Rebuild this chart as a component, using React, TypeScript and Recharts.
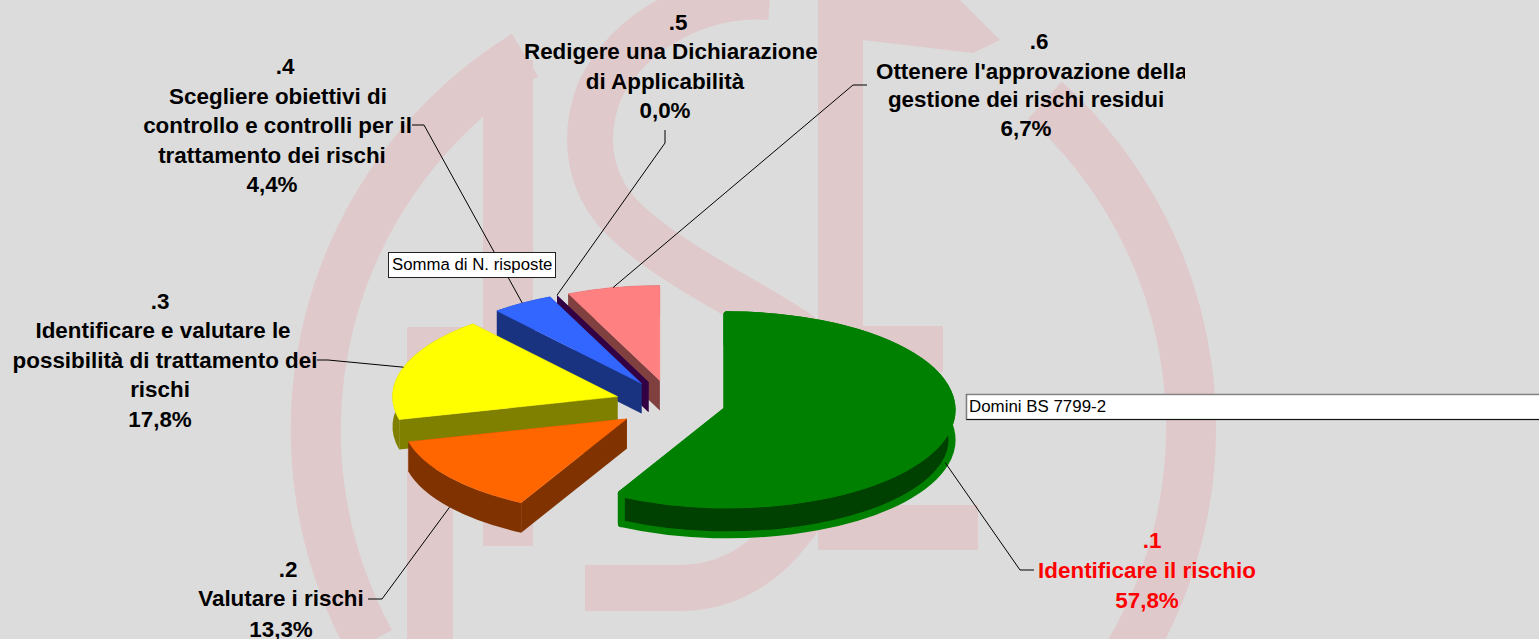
import React from 'react';
import { PieChart, Pie } from 'recharts';

// ---- data ----
const codes = ['.1', '.2', '.3', '.4', '.5', '.6'];
const categoryLines = [
  ['Identificare il rischio'],
  ['Valutare i rischi'],
  ['Identificare e valutare le', 'possibilità di trattamento dei', 'rischi'],
  ['Scegliere obiettivi di', 'controllo e controlli per il', 'trattamento dei rischi'],
  ['Redigere una Dichiarazione', 'di Applicabilità'],
  ["Ottenere l'approvazione della", 'gestione dei rischi residui'],
];
const responses = [26, 6, 8, 2, 0, 3];
const topColors = ['#008000', '#FF6600', '#FFFF00', '#3366FF', '#660066', '#FF8080'];
const sideColors = ['#004000', '#803300', '#808000', '#1A3380', '#330044', '#804040'];
const labelColors = ['#FF0000', '#000000', '#000000', '#000000', '#000000', '#000000'];

// ---- layout of the surrounding annotation (not data) ----
type Line = { x: number; y: number; anchor?: 'start' | 'middle'; clipTo?: number };
const labelLayout: Line[][] = [
  [{ x: 1152, y: 540 }, { x: 1147, y: 570 }, { x: 1147, y: 600 }],
  [{ x: 288, y: 569 }, { x: 281, y: 598 }, { x: 281, y: 629 }],
  [{ x: 160, y: 301 }, { x: 163, y: 330 }, { x: 165, y: 360 }, { x: 160, y: 389 }, { x: 160, y: 419 }],
  [{ x: 285, y: 66 }, { x: 278, y: 96 }, { x: 277.5, y: 125 }, { x: 272, y: 155 }, { x: 272, y: 184 }],
  [{ x: 678, y: 22 }, { x: 524, y: 51, anchor: 'start', clipTo: 818 }, { x: 665, y: 81 }, { x: 665, y: 110 }],
  [{ x: 1039, y: 41 }, { x: 876, y: 71, anchor: 'start', clipTo: 1185 }, { x: 1026, y: 99 }, { x: 1026, y: 128 }],
];
const leaderEnds: [number, number][][] = [
  [[1020, 570], [1034, 570]],
  [[382, 599], [368, 599]],
  [[328, 360], [317, 360]],
  [[424, 125], [412, 125]],
  [[665, 143], [665, 130]],
  [[853, 85], [867, 85]],
];

const PIE_CX = 671.7;
const PIE_CY = 404;
const RX = 225;
const SQUASH = 0.4222;
const DEPTH = 30;
const EXPLODE = 57;
const RAD = Math.PI / 180;

const chartData = responses
  .map((value, idx) => ({ name: categoryLines[idx].join(' '), code: codes[idx], value, idx }))
  .reverse();

const origin = (cx: number, cy: number, mid: number) => ({
  x: cx + EXPLODE * Math.cos(mid * RAD),
  y: cy - EXPLODE * SQUASH * Math.sin(mid * RAD),
});

function SliceShape(props: any) {
  const { cx, cy, startAngle, endAngle, outerRadius, payload } = props;
  const idx = payload?.idx ?? props.idx;
  const mid = (startAngle + endAngle) / 2;
  const o = origin(cx, cy, mid);
  const rx = outerRadius;
  const ry = outerRadius * SQUASH;
  const pt = (a: number, dy = 0) => ({ x: o.x + rx * Math.cos(a * RAD), y: o.y - ry * Math.sin(a * RAD) + dy });
  const P = (p: { x: number; y: number }) => `${p.x.toFixed(2)},${p.y.toFixed(2)}`;
  const s0 = pt(startAngle);
  const s1 = pt(endAngle);
  const large = Math.abs(endAngle - startAngle) > 180 ? 1 : 0;
  const arc = `A${rx},${ry} 0 ${large} 0`;
  const arcBack = `A${rx},${ry} 0 ${large} 1`;
  const top = `M${o.x},${o.y} L${P(s0)} ${arc} ${P(s1)} Z`;
  const b0 = pt(startAngle, DEPTH);
  const b1 = pt(endAngle, DEPTH);
  const strip = `M${P(s0)} ${arc} ${P(s1)} L${P(b1)} ${arcBack} ${P(b0)} Z`;
  const faceA = `M${o.x},${o.y} L${P(s0)} L${P(b0)} L${o.x},${o.y + DEPTH} Z`;
  const faceB = `M${o.x},${o.y} L${P(s1)} L${P(b1)} L${o.x},${o.y + DEPTH} Z`;
  const top0 = topColors[idx];
  const side = sideColors[idx];
  const thick = idx === 0 ? 7 : 0;
  const sideStroke = thick ? { stroke: top0, strokeWidth: thick, strokeLinejoin: 'round' as const } : {};
  const showTop = endAngle - startAngle > 0;
  return (
    <g>
      <path d={faceA} fill={side} {...sideStroke} />
      <path d={faceB} fill={side} {...sideStroke} />
      {showTop && <path d={strip} fill={side} {...sideStroke} />}
      {showTop && (
        <path
          d={top}
          fill={top0}
          stroke={top0}
          strokeWidth={thick || 0.5}
          strokeLinejoin="round"
        />
      )}
    </g>
  );
}

function SliceLabel(props: any) {
  const { cx, cy, outerRadius, percent, payload } = props;
  const idx = payload?.idx ?? props.idx;
  const mid = props.midAngle;
  const o = origin(cx, cy, mid);
  const rim = {
    x: o.x + outerRadius * Math.cos(mid * RAD),
    y: o.y - outerRadius * SQUASH * Math.sin(mid * RAD) + (Math.sin(mid * RAD) < -0.1 ? DEPTH : 0),
  };
  const lines = [codes[idx], ...categoryLines[idx], `${(percent * 100).toFixed(1).replace('.', ',')}%`];
  const layout = labelLayout[idx];
  const pts = [[rim.x, rim.y], ...leaderEnds[idx]].map((p) => p.join(',')).join(' ');
  return (
    <g>
      <polyline points={pts} fill="none" stroke="#000" strokeWidth={1} />
      {lines.map((t, i) => {
        const l = layout[i];
        const clipId = `clip-${idx}-${i}`;
        return (
          <g key={i}>
            {l.clipTo && (
              <clipPath id={clipId}>
                <rect x={0} y={0} width={l.clipTo} height={639} />
              </clipPath>
            )}
            <text
              x={l.x}
              y={l.y + 8}
              textAnchor={l.anchor ?? 'middle'}
              clipPath={l.clipTo ? `url(#${clipId})` : undefined}
              fontFamily="'Liberation Sans', Arial, sans-serif"
              fontWeight="bold"
              fontSize={22.4}
              fill={labelColors[idx]}
            >
              {t}
            </text>
          </g>
        );
      })}
    </g>
  );
}

const WM = '#E0C9CB';
function Watermark() {
  return (
    <svg width={1539} height={639} style={{ position: 'absolute', left: 0, top: 0 }}>
      {/* ring, left and right parts */}
      <path d="M525,55 A441,441 0 0 0 370,642" fill="none" stroke={WM} strokeWidth={50} />
      <path d="M1045,100 A441,441 0 0 1 1125,660" fill="none" stroke={WM} strokeWidth={50} />
      {/* I */}
      <rect x={483} y={60} width={50} height={486} fill={WM} />
      <rect x={407} y={327} width={46} height={312} fill={WM} />
      <rect x={407} y={327} width={76} height={13} fill={WM} />
      {/* S */}
      <path
        d="M770,-3 C700,-8 630,30 600,90 C580,140 590,190 630,225 C680,270 750,300 800,335 C850,380 840,470 790,530 C760,570 720,588 680,588 L585,588"
        fill="none"
        stroke={WM}
        strokeWidth={46}
      />
      {/* E */}
      <rect x={818} y={0} width={45} height={550} fill={WM} />
      <path d="M863,0 L960,0 L1000,40 L973,53 L863,40 Z" fill={WM} />
      <rect x={863} y={326} width={80} height={46} fill={WM} />
      <rect x={863} y={505} width={115} height={45} fill={WM} />
    </svg>
  );
}

function Captions() {
  const font = "'Liberation Sans', Arial, sans-serif";
  return (
    <svg width={1539} height={639} style={{ position: 'absolute', left: 0, top: 0, pointerEvents: 'none' }}>
      <rect x={388.5} y={252.5} width={167} height={25} fill="#fff" stroke="#222" strokeWidth={1} />
      <text x={392} y={270} fontFamily={font} fontSize={16.8} fill="#000">Somma di N. risposte</text>
      <rect x={966.5} y={394.5} width={600} height={25} fill="#fff" stroke="#111" strokeWidth={1.2} />
      <line x1={966.5} y1={394.5} x2={1539} y2={394.5} stroke="#808080" strokeWidth={1.2} />
      <line x1={966.5} y1={394.5} x2={966.5} y2={419.5} stroke="#808080" strokeWidth={1.2} />
      <text x={969} y={412} fontFamily={font} fontSize={16.9} fill="#000">Domini BS 7799-2</text>
    </svg>
  );
}

export default function App() {
  return (
    <div style={{ position: 'absolute', left: 0, top: 0, width: 1539, height: 639, overflow: 'hidden', background: '#DCDCDC' }}>
      <Watermark />
      <div style={{ position: 'absolute', left: 0, top: 0 }}>
        <PieChart width={1539} height={639} margin={{ top: 0, right: 0, bottom: 0, left: 0 }}>
          <Pie
            data={chartData}
            dataKey="value"
            nameKey="name"
            cx={PIE_CX}
            cy={PIE_CY}
            innerRadius={0}
            outerRadius={RX}
            startAngle={90}
            endAngle={450}
            paddingAngle={0}
            shape={SliceShape}
            label={SliceLabel}
            labelLine={false}
            isAnimationActive={false}
          />
        </PieChart>
      </div>
      <Captions />
    </div>
  );
}
